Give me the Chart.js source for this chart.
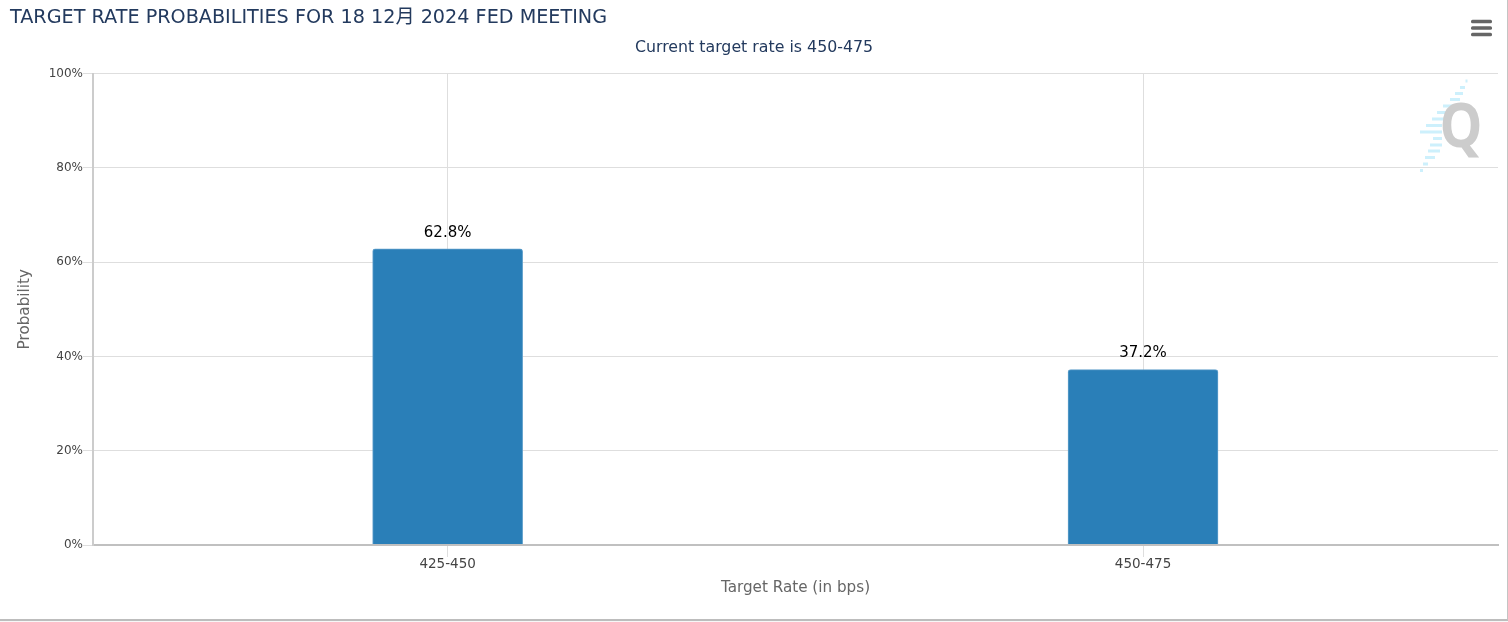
<!DOCTYPE html>
<html>
<head>
<meta charset="utf-8">
<title>Target rate probabilities</title>
<script src="https://cdn.jsdelivr.net/npm/chart.js@4"></script>
<style>
html, body { margin: 0; padding: 0; background: #f7f7f7; overflow: hidden; }
#wrap { position: relative; width: 1507px; height: 619px; background: #fff; border-right: 1px solid #c4c4c4; border-bottom: 2px solid #bdbdbd; }
canvas { display: block; }
</style>
</head>
<body>
<div id="wrap"><canvas id="chart" width="1507" height="619"></canvas></div>
<script>
var titleText = "TARGET RATE PROBABILITIES FOR 18 12月 2024 FED MEETING";
var subtitleText = "Current target rate is 450-475";
var rateLabels = ["425-450", "450-475"];
var probabilities = [62.8, 37.2];
var yTicks = [0, 20, 40, 60, 80, 100];

var fontName = '"DejaVu Sans", "Noto Sans CJK SC", sans-serif';

// watermark stripes: x1, x2, y
var logoStripes = [
    [1465.5, 1467.5, 81], [1460, 1465, 87.5], [1455, 1463, 93.5], [1450, 1460, 99.5],
    [1443, 1457, 106], [1437, 1450, 112.5], [1432, 1445, 119], [1426, 1442, 125.5],
    [1420, 1442, 132], [1433, 1442, 138.5], [1430, 1442, 145], [1428, 1440, 151],
    [1425, 1435, 157.5], [1423, 1428, 164], [1420, 1423, 170.5]
];

var decorations = {
    id: "decorations",
    beforeDatasetsDraw: function(chart) {
        var c = chart.ctx;
        c.save();
        c.fillStyle = "#cdf0fc";
        logoStripes.forEach(function(s) {
            c.fillRect(s[0], s[2] - 1.5, s[1] - s[0], 3);
        });
        c.fillStyle = "#cccccc";
        c.font = 'bold 54px "Open Sans", sans-serif';
        c.textAlign = "center";
        c.textBaseline = "alphabetic";
        c.translate(1461, 147);
        c.scale(1, 1.12);
        c.fillText("Q", 0, 0);
        c.restore();
    },
    afterDraw: function(chart) {
        var c = chart.ctx;
        c.save();
        c.fillStyle = "#666666";
        [21.5, 28, 34.5].forEach(function(y) {
            c.beginPath();
            c.roundRect(1471, y - 1.8, 21, 3.6, 1.5);
            c.fill();
        });
        var meta = chart.getDatasetMeta(0);
        c.fillStyle = "#000000";
        c.font = '15px ' + fontName;
        c.textAlign = "center";
        c.textBaseline = "middle";
        meta.data.forEach(function(bar, i) {
            c.fillText(probabilities[i].toFixed(1) + "%", bar.x, bar.y - 16);
        });
        c.restore();
    }
};

var ctx = document.getElementById("chart").getContext("2d");
new Chart(ctx, {
    type: "bar",
    plugins: [decorations],
    data: {
        datasets: [{
            data: rateLabels.map(function(label, i) {
                return { x: i, y: probabilities[i] };
            }),
            backgroundColor: "#2a7fb8",
            borderColor: "#5f9fcb",
            borderWidth: 1,
            borderSkipped: "bottom",
            borderRadius: { topLeft: 3, topRight: 3, bottomLeft: 0, bottomRight: 0 },
            barThickness: 150
        }]
    },
    options: {
        responsive: false,
        animation: false,
        layout: { padding: { left: 10, right: 9, top: 0, bottom: 0 } },
        plugins: {
            legend: { display: false },
            tooltip: { enabled: false },
            title: {
                display: true,
                text: titleText,
                align: "start",
                color: "#233a5e",
                font: { family: fontName, size: 19.2, weight: "normal" },
                padding: { top: 6, bottom: 0 }
            },
            subtitle: {
                display: true,
                text: subtitleText,
                color: "#233a5e",
                font: { family: fontName, size: 15.8, weight: "normal" },
                padding: { top: 9, bottom: 16.5 }
            }
        },
        scales: {
            x: {
                type: "linear",
                offset: false,
                min: -0.51,
                max: 1.5105,
                afterFit: function(scale) { scale.height = 74; },
                ticks: {
                    stepSize: 1,
                    includeBounds: false,
                    maxRotation: 0,
                    color: "#444444",
                    padding: -1,
                    font: { family: fontName, size: 13.5 },
                    callback: function(v) { return rateLabels[Math.round(v)]; }
                },
                grid: { offset: false, color: "#dedede", tickColor: "#dedede", tickLength: 12 },
                border: { color: "#c0c0c0", width: 2, z: 1 },
                title: {
                    display: true,
                    text: "Target Rate (in bps)",
                    color: "#666666",
                    font: { family: fontName, size: 15.2 },
                    padding: { top: 0, bottom: 22 }
                }
            },
            y: {
                min: 0,
                max: 100,
                afterFit: function(scale) { scale.width = 83; },
                afterBuildTicks: function(scale) {
                    scale.ticks = yTicks.map(function(v) { return { value: v }; });
                },
                ticks: {
                    color: "#444444",
                    padding: 0,
                    font: { family: fontName, size: 12 },
                    callback: function(v) { return v + "%"; }
                },
                grid: { color: "#dedede", tickColor: "#dedede", tickLength: 10 },
                border: { color: "#cccccc", width: 2, z: 1 },
                title: {
                    display: true,
                    text: "Probability",
                    color: "#666666",
                    font: { family: fontName, size: 15.2 },
                    padding: { top: 6, bottom: 0 }
                }
            }
        }
    }
});
</script>
</body>
</html>
